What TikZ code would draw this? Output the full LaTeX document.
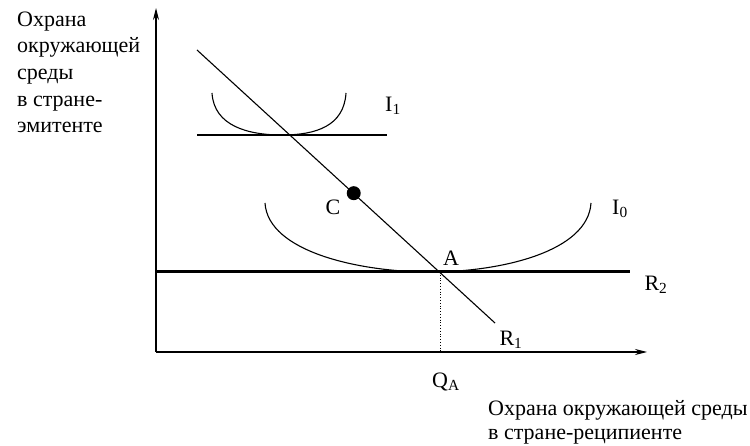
\documentclass[tikz,border=0pt]{standalone}
\usepackage{fontspec}
\setmainfont{Liberation Serif}
\usetikzlibrary{arrows.meta,calc}
\begin{document}
\begin{tikzpicture}[x=1pt,y=-1pt,
  thinline/.style={line width=1.1pt},
  axis/.style={line width=1.1pt,-{Stealth[length=12pt,width=6pt]}},
  lbl/.style={font=\fontsize{22}{26}\selectfont,inner sep=0pt},
  para/.style={font=\fontsize{22}{27}\selectfont,inner sep=0pt,anchor=base west}]
\useasboundingbox (0,0) rectangle (750,446);
% coordinates
\coordinate (O) at (156,352);
\coordinate (ytop) at (156,8);
\coordinate (xend) at (647,352);
\coordinate (R1s) at (197,50);
\coordinate (A) at (440,272);
\coordinate (R1e) at (495,323);
\coordinate (QA) at (440,352);
\coordinate (R2s) at (157,272);
\coordinate (R2e) at (630,272);
\coordinate (H1s) at (197,135);
\coordinate (H1e) at (387,135);
% axes
\draw[axis] (O) -- (ytop);
\draw[axis] (O) -- (xend);
% R2 thick
\draw[line width=3pt] (R2s) -- (R2e);
% horizontal line at I1
\draw[thinline] (H1s) -- (H1e);
% I1
\draw[thinline] (212,93) .. controls (214,126) and (248,135) .. (282,135)
  .. controls (316,135) and (344,126) .. (346,93);
% I0
\draw[thinline] (265,203) .. controls (268,252) and (360,272) .. (430,272)
  .. controls (500,272) and (588,252) .. (591,203);
% R1
\draw[thinline] (R1s) -- (R1e);
% dotted
\draw[line width=0.8pt,dotted] (A) -- (QA);
% C point
\coordinate (C) at ($(R1s)!0.645!(A)$);
\fill (C) circle (7);
% labels
\node[lbl] (lC) at (333,207) {C};
\node[lbl] (lA) at (451,258) {A};
\node[lbl] (lI1) at (393,106) {I\textsubscript{1}};
\node[lbl] (lI0) at (620,209) {I\textsubscript{0}};
\node[lbl] (lR2) at (656,285) {R\textsubscript{2}};
\node[lbl] (lR1) at (511,340) {R\textsubscript{1}};
\node[lbl] (lQA) at (446,382) {Q\textsubscript{A}};
% axis titles
\node[para] (y1) at (17,27) {Охрана};
\node[para] (y2) at (17,53) {окружающей};
\node[para] (y3) at (17,80) {среды};
\node[para] (y4) at (17,107) {в стране-};
\node[para] (y5) at (17,133) {эмитенте};
\node[para] (x1) at (488,415) {Охрана окружающей среды};
\node[para] (x2) at (488,439) {в стране-реципиенте};
\end{tikzpicture}
\end{document}
